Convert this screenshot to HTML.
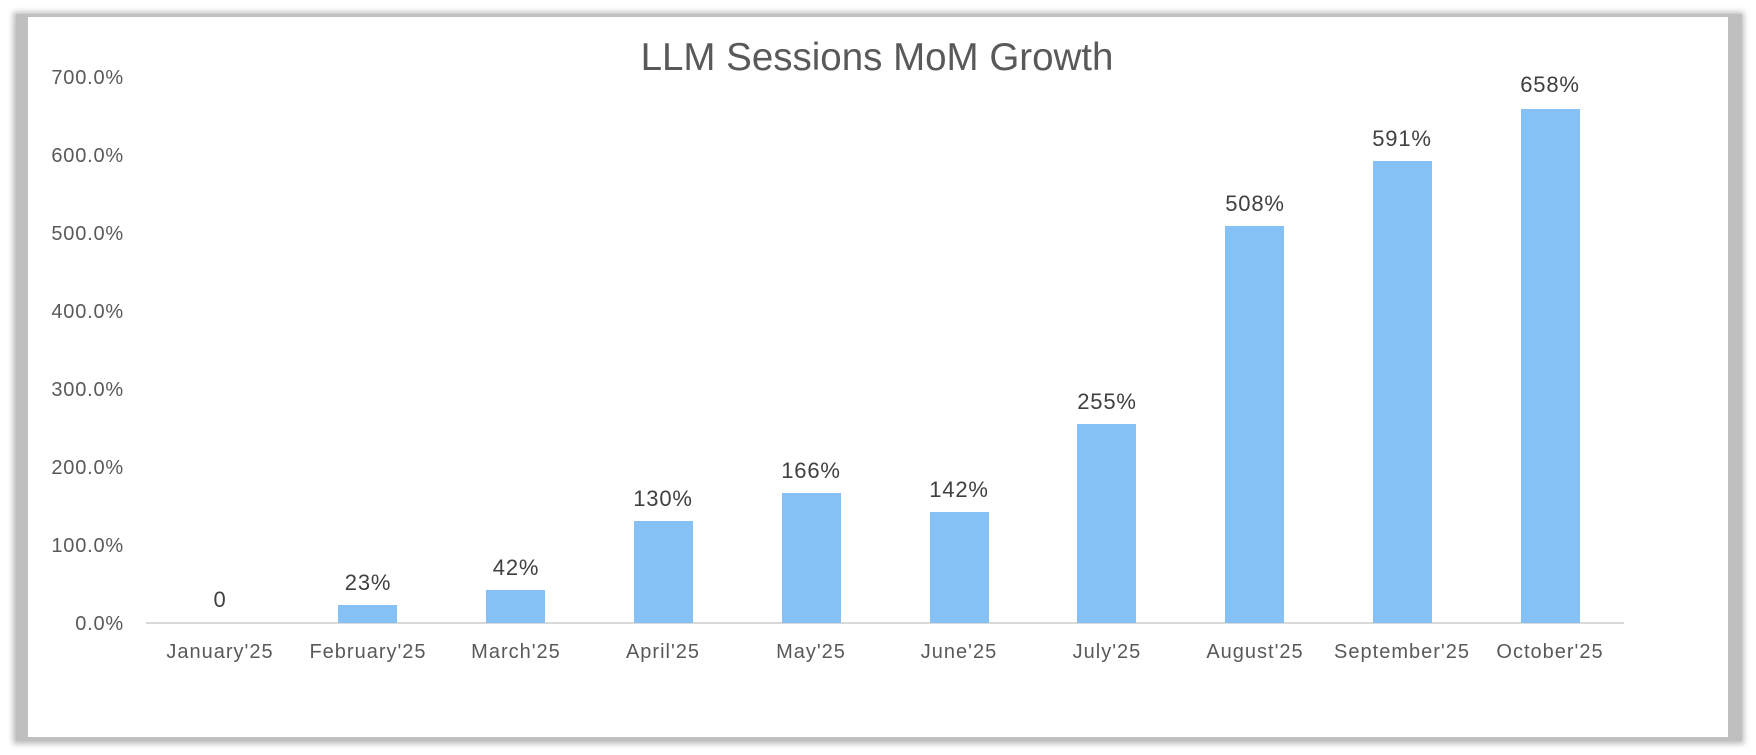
<!DOCTYPE html>
<html><head><meta charset="utf-8"><style>
html,body{margin:0;padding:0;background:#fff;}
svg{display:block;}
</style></head><body>
<svg width="1756" height="755" xmlns="http://www.w3.org/2000/svg">
<defs><filter id="b" x="-5%" y="-5%" width="110%" height="110%"><feGaussianBlur stdDeviation="3"/></filter></defs>
<rect x="13" y="12" width="1731" height="732" fill="#bdbdbd" filter="url(#b)"/>
<rect x="16" y="14" width="1726" height="727" fill="#bfbfbf"/>
<rect x="28" y="17" width="1700" height="720" fill="#fff"/>
<text x="877" y="70" text-anchor="middle" font-family="Liberation Sans, sans-serif" font-size="38.5" fill="#595959">LLM Sessions MoM Growth</text>
<g font-family="Liberation Sans, sans-serif" font-size="20" fill="#595959" text-anchor="end" letter-spacing="0.8">
<text x="124" y="630">0.0%</text>
<text x="124" y="552">100.0%</text>
<text x="124" y="474">200.0%</text>
<text x="124" y="396">300.0%</text>
<text x="124" y="318">400.0%</text>
<text x="124" y="240">500.0%</text>
<text x="124" y="162">600.0%</text>
<text x="124" y="84">700.0%</text>
</g>
<line x1="146" y1="623" x2="1624" y2="623" stroke="#d9d9d9" stroke-width="2"/>
<g fill="#85c1f5">
<rect x="338" y="605" width="59" height="18"/>
<rect x="486" y="590" width="59" height="33"/>
<rect x="634" y="521" width="59" height="102"/>
<rect x="782" y="493" width="59" height="130"/>
<rect x="930" y="512" width="59" height="111"/>
<rect x="1077" y="424" width="59" height="199"/>
<rect x="1225" y="226" width="59" height="397"/>
<rect x="1373" y="161" width="59" height="462"/>
<rect x="1521" y="109" width="59" height="514"/>
</g>
<g font-family="Liberation Sans, sans-serif" font-size="22" fill="#404040" text-anchor="middle" letter-spacing="0.8">
<text x="220" y="607">0</text>
<text x="368" y="590">23%</text>
<text x="516" y="575">42%</text>
<text x="663" y="506">130%</text>
<text x="811" y="478">166%</text>
<text x="959" y="497">142%</text>
<text x="1107" y="409">255%</text>
<text x="1255" y="211">508%</text>
<text x="1402" y="146">591%</text>
<text x="1550" y="92">658%</text>
</g>
<g font-family="Liberation Sans, sans-serif" font-size="20" fill="#595959" text-anchor="middle" letter-spacing="1">
<text x="220" y="658">January'25</text>
<text x="368" y="658">February'25</text>
<text x="516" y="658">March'25</text>
<text x="663" y="658">April'25</text>
<text x="811" y="658">May'25</text>
<text x="959" y="658">June'25</text>
<text x="1107" y="658">July'25</text>
<text x="1255" y="658">August'25</text>
<text x="1402" y="658">September'25</text>
<text x="1550" y="658">October'25</text>
</g>
</svg>
</body></html>
